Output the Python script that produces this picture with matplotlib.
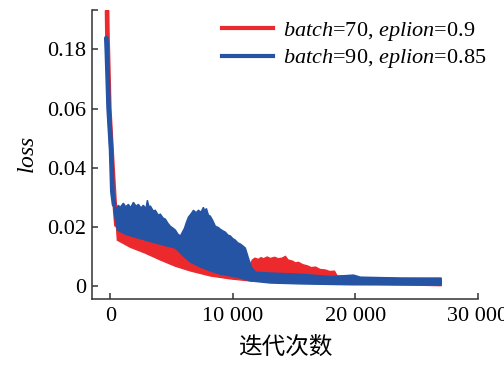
import numpy as np
import matplotlib
matplotlib.use("Agg")
import matplotlib.pyplot as plt
from matplotlib.lines import Line2D

plt.rcParams['font.family'] = ['Liberation Serif', 'DejaVu Serif']
plt.rcParams['mathtext.fontset'] = 'custom'
plt.rcParams['mathtext.it'] = 'Liberation Serif:italic'
plt.rcParams['mathtext.rm'] = 'Liberation Serif'

RED = '#ec2a2e'
BLUE = '#2454a3'

# steep start of each run (iteration, loss)
red_head_x = [-270, -240, -210, -90, 140, 330, 490]
red_head_y = [0.258, 0.205, 0.18, 0.06, 0.0425, 0.029, 0.0206]
blue_head_x = [-330, -290, -140, 60, 160, 300]
blue_head_y = [0.203, 0.178, 0.06, 0.046, 0.032, 0.0275]

# noisy band of the red run: upper and lower edge
red_up_x = [490, 1000, 2000, 2860, 4080, 4730, 5300, 5900, 6500, 7350, 8160, 8980,
            9800, 10600, 11270, 11590, 11800, 12080, 12300, 12490, 12800, 13060,
            13400, 13710, 14000, 14290, 14500, 14860, 15100, 15350, 15700, 16080,
            16400, 16740, 17100, 17550, 17900, 18290, 18500, 20400, 27000]
red_up_y = [0.0206, 0.0182, 0.0169, 0.0155, 0.0138, 0.0138, 0.0128, 0.0118, 0.0081,
            0.0071, 0.0060, 0.0050, 0.0040, 0.0035, 0.0061, 0.0088, 0.0094, 0.0090,
            0.0096, 0.0092, 0.0098, 0.0093, 0.0097, 0.0092, 0.0094, 0.0100, 0.0088,
            0.0084, 0.0078, 0.0080, 0.0072, 0.0068, 0.0062, 0.0064, 0.0056, 0.0054,
            0.0049, 0.0050, 0.0034, 0.0027, 0.0024]
red_lo_x = [490, 570, 1630, 2860, 4080, 5300, 6530, 8160, 9800, 11430, 14290, 17140,
            20400, 27000]
red_lo_y = [0.0206, 0.0155, 0.0131, 0.0111, 0.0088, 0.0067, 0.0051, 0.0034, 0.0024,
            0.0017, 0.0013, 0.0010, 0.0007, 0.0001]

# noisy band of the blue run
blue_up_x = [300, 500, 650, 800, 1060, 1250, 1470, 1650, 1880, 2100, 2290, 2500,
             2690, 2900, 3020, 3150, 3270, 3500, 3670, 3900, 4080, 4300, 4490, 4700,
             4900, 5100, 5310, 5500, 5710, 5850, 6040, 6200, 6370, 6600, 6780, 7000,
             7180, 7400, 7590, 7700, 7840, 8000, 8160, 8350, 8570, 8800, 8980, 9200,
             9390, 9600, 9800, 10000, 10200, 10400, 10610, 10800, 11020, 11270,
             11510, 11840, 13000, 15500, 18000, 19840, 20400, 23700, 27000]
blue_up_y = [0.0275, 0.0262, 0.0273, 0.0266, 0.0280, 0.0268, 0.0276, 0.0265, 0.0283,
             0.0270, 0.0276, 0.0264, 0.0273, 0.0262, 0.0290, 0.0268, 0.0270, 0.0254,
             0.0256, 0.0240, 0.0243, 0.0230, 0.0226, 0.0212, 0.0202, 0.0196, 0.0189,
             0.0176, 0.0169, 0.0180, 0.0195, 0.0215, 0.0233, 0.0245, 0.0256, 0.0248,
             0.0256, 0.0250, 0.0266, 0.0255, 0.0262, 0.0240, 0.0236, 0.0222, 0.0202,
             0.0198, 0.0192, 0.0186, 0.0182, 0.0172, 0.0169, 0.0160, 0.0155, 0.0146,
             0.0142, 0.0136, 0.0128, 0.0094, 0.0064, 0.0047, 0.0044, 0.0040, 0.0032,
             0.0037, 0.0030, 0.0027, 0.0027]
blue_lo_x = [300, 570, 1220, 2040, 2860, 4080, 5310, 5880, 6530, 7350, 8160, 8980,
             9800, 10610, 11430, 13060, 15510, 19590, 27000]
blue_lo_y = [0.0250, 0.0189, 0.0175, 0.0165, 0.0155, 0.0141, 0.0128, 0.0104, 0.0081,
             0.0064, 0.0051, 0.0040, 0.0034, 0.0027, 0.0017, 0.0010, 0.0007, 0.0004,
             0.0003]

labels = ['$batch$=70, $eplion$=0.9', '$batch$=90, $eplion$=0.85']
x_ticks = [0, 10000, 20000, 30000]
x_tick_labels = ['0', '10 000', '20 000', '30 000']
y_ticks = [0, 0.02, 0.04, 0.06, 0.18, 0.26]
y_tick_labels = ['0', '0.02', '0.04', '0.06', '0.18', '']


def fwd(y):
    y = np.asarray(y, dtype=float)
    return np.where(y <= 0.06, y, 0.06 + (y - 0.06) / 6.0)


def inv(u):
    u = np.asarray(u, dtype=float)
    return np.where(u <= 0.06, u, 0.06 + (u - 0.06) * 6.0)


fig = plt.figure(figsize=(5.04, 3.67), dpi=100)
ax = fig.add_axes([92 / 504, 1 - 299 / 367, (478 - 92) / 504, (299 - 10) / 367])
ax.set_yscale('function', functions=(fwd, inv))

for hx, hy, ux, uy, lx, ly, c in [
        (red_head_x, red_head_y, red_up_x, red_up_y, red_lo_x, red_lo_y, RED),
        (blue_head_x, blue_head_y, blue_up_x, blue_up_y, blue_lo_x, blue_lo_y, BLUE)]:
    ax.plot(hx, hy, color=c, lw=3.4, solid_capstyle='round', zorder=2)
    px = np.r_[ux, lx[::-1]]
    py = np.r_[uy, ly[::-1]]
    ax.fill(px, py, color=c, lw=1.0, edgecolor=c, zorder=2)

ax.set_xlim(-1500, 30000)
ax.set_ylim(-0.0044, 0.26)
ax.set_xticks(x_ticks)
ax.set_xticklabels(x_tick_labels)
ax.set_yticks(y_ticks)
ax.set_yticklabels(y_tick_labels)
ax.minorticks_off()

for s in ['top', 'right']:
    ax.spines[s].set_visible(False)
for s in ['left', 'bottom']:
    ax.spines[s].set_linewidth(1.1)
    ax.spines[s].set_color('#333333')
ax.tick_params(direction='in', length=4, width=1.1, colors='#333333',
               labelcolor='black', labelsize=16)
ax.tick_params(axis='x', pad=6)
ax.tick_params(axis='y', pad=4)

ax.set_ylabel('$loss$', fontsize=17, labelpad=6)
ax.set_xlabel('迭代次数', fontsize=17, family=['Noto Sans CJK SC'], labelpad=7)

handles = [Line2D([], [], color=RED, lw=3), Line2D([], [], color=BLUE, lw=3)]
ax.legend(handles, labels, loc='upper left', bbox_to_anchor=(222 / 504, 1 - 20 / 367),
          bbox_transform=fig.transFigure, frameon=False, fontsize=16,
          handlelength=2.3, handletextpad=0.45, labelspacing=0.2,
          borderpad=0, borderaxespad=0)

fig.savefig('out.png', dpi=100)
